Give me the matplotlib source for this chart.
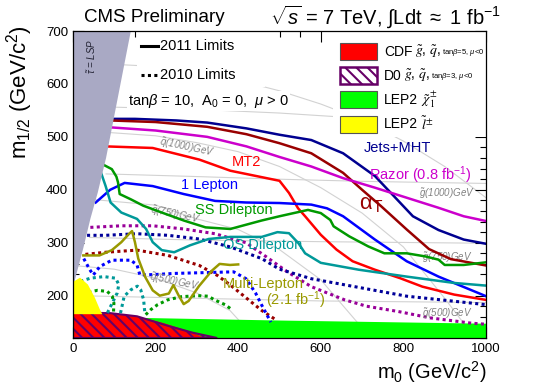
import matplotlib
matplotlib.use('Agg')
import matplotlib.pyplot as plt
from matplotlib.patches import Polygon, Rectangle
from matplotlib.ticker import MultipleLocator
from matplotlib.lines import Line2D

plt.rcParams['font.family'] = ['Liberation Sans', 'DejaVu Sans']
plt.rcParams['mathtext.fontset'] = 'custom'
plt.rcParams['mathtext.rm'] = 'Liberation Sans'
plt.rcParams['mathtext.it'] = 'Liberation Sans:italic'
plt.rcParams['mathtext.bf'] = 'Liberation Sans:bold'
plt.rcParams['hatch.linewidth'] = 1.5

# ---------------- data (m0, m1/2) ----------------
lsp_region = [(0, 215), (8, 240), (25, 290), (42, 345), (60, 395), (80, 460), (100, 540), (140, 700), (0, 700)]
lep_slepton = [(0, 165), (0, 226), (17, 234), (36, 221), (53, 196), (65, 174), (71, 165)]
lep_chargino = [(0, 120), (0, 160), (160, 158), (500, 153), (1000, 147), (1000, 120)]
cdf_region = [(0, 120), (0, 166), (80, 167), (155, 161), (220, 148), (280, 133), (320, 120)]
d0_region = [(0, 120), (0, 168), (90, 167), (155, 161), (230, 143), (290, 130), (349, 120)]

jets_mht_2011 = [(90, 534), (150, 534), (250, 531), (325, 527), (420, 516), (500, 504), (577, 494), (654, 469),
                 (731, 426), (777, 388), (823, 350), (885, 324), (946, 306), (1000, 298)]
alphat_2011 = [(90, 531), (200, 528), (325, 519), (420, 505), (500, 488), (577, 469), (654, 432), (700, 400),
               (746, 369), (808, 325), (862, 288), (915, 269), (1000, 257)]
razor_2011 = [(90, 518), (200, 512), (325, 500), (420, 482), (500, 462), (577, 444), (654, 422), (731, 404),
              (808, 385), (885, 366), (946, 350), (1000, 341)]
mt2_2011 = [(80, 482), (193, 479), (306, 457), (381, 436), (450, 425), (500, 417), (523, 394), (545, 365),
            (562, 350), (600, 315), (638, 287), (677, 265), (731, 249), (792, 233), (846, 217), (923, 202), (1000, 192)]
onelep_2011 = [(55, 376), (90, 400), (125, 413), (193, 407), (268, 392), (344, 379), (419, 376), (500, 375),
               (577, 372), (615, 365), (654, 350), (731, 306), (808, 265), (885, 236), (1000, 199)]
ssdilep_2011 = [(72, 448), (94, 439), (105, 425), (109, 414), (113, 392), (140, 382), (170, 370), (215, 357),
                (268, 342), (321, 329), (381, 326), (457, 342), (500, 350), (569, 362), (600, 356), (623, 343),
                (631, 331), (669, 312), (715, 293), (754, 280), (808, 280), (854, 274), (885, 268), (900, 258),
                (946, 258), (1000, 263)]
osdilep_2011 = [(68, 432), (79, 407), (91, 376), (117, 357), (155, 345), (177, 326), (193, 301), (215, 286),
                (245, 282), (283, 295), (328, 307), (381, 311), (457, 311), (495, 320), (523, 318), (546, 299),
                (562, 280), (600, 262), (692, 249), (808, 236), (923, 224), (1000, 219)]
multilep_2011 = [(25, 276), (64, 276), (94, 286), (117, 301), (136, 317), (143, 322), (150, 301), (158, 270),
                 (175, 235), (193, 210), (210, 200), (232, 204), (243, 220), (256, 200), (268, 184), (280, 190),
                 (305, 218), (336, 247), (355, 260), (380, 258), (400, 259)]

razor_2010 = [(42, 329), (117, 332), (193, 332), (268, 326), (344, 317), (419, 300), (465, 275), (519, 245),
              (577, 217), (658, 192), (711, 180), (788, 170), (865, 158), (965, 148), (1000, 146)]
jets_mht_2010 = [(34, 314), (79, 314), (155, 317), (230, 314), (306, 307), (381, 292), (457, 270), (500, 250),
                 (577, 232), (654, 221), (808, 199), (1000, 183)]
alphat_2010 = [(30, 278), (79, 282), (155, 286), (230, 276), (306, 257), (350, 238), (381, 220), (419, 196),
               (457, 172), (490, 155)]
onelep_2010 = [(26, 270), (40, 250), (49, 239), (65, 255), (94, 267), (140, 267), (155, 258), (162, 239),
               (200, 240), (245, 242), (389, 245), (419, 232), (442, 205), (457, 182), (479, 150)]
osdilep_2010_a = [(18, 227), (42, 233), (75, 236), (103, 233), (111, 221), (107, 205), (95, 186), (83, 167)]
osdilep_2010_b = [(115, 167), (124, 199), (140, 211), (156, 218), (164, 211), (171, 192), (174, 167)]
ssdilep_2010_a = [(10, 196), (26, 205), (59, 210), (83, 208), (95, 199), (99, 186), (98, 167)]
ssdilep_2010_b = [(176, 164), (189, 174), (205, 183), (229, 192), (262, 198), (302, 200), (327, 199),
                  (343, 192), (368, 183), (384, 174)]

gluino_contours = {
    1250: [(105, 556), (300, 552), (500, 545), (640, 538)],
    1000: [(80, 430), (300, 425), (500, 420), (700, 416), (1000, 412)],
    750: [(40, 310), (300, 305), (600, 302), (1000, 299)],
    500: [(10, 200), (300, 195), (600, 190), (1000, 187)],
}
squark_contours = {
    500: [(0, 257), (100, 250), (200, 233), (300, 205), (380, 172), (441, 120)],
    750: [(0, 385), (200, 371), (300, 345), (400, 325), (500, 287), (600, 230), (700, 139), (712, 120)],
    1000: [(0, 513), (200, 502), (300, 489), (400, 472), (500, 444), (600, 404), (700, 356), (800, 292),
           (900, 195), (973, 120)],
    1250: [(0, 641), (200, 633), (300, 622), (400, 607), (500, 587), (600, 562), (700, 532), (800, 492),
           (900, 444), (1000, 385)],
}

x_ticks = [0, 200, 400, 600, 800, 1000]
y_ticks = [200, 300, 400, 500, 600, 700]

# ---------------- figure ----------------
W, H = 545, 391
fig = plt.figure(figsize=(W / 100, H / 100), dpi=100)
ax = fig.add_axes([73 / W, 1 - 338 / H, (486 - 73) / W, (338 - 31) / H])
ax.set_xlim(0, 1000)
ax.set_ylim(120, 700)

def xy(pts):
    return [p[0] for p in pts], [p[1] for p in pts]

gray = '#d2d2d2'
for pts in list(gluino_contours.values()) + list(squark_contours.values()):
    x, y = xy(pts)
    ax.plot(x, y, color=gray, lw=0.8, zorder=1)

# filled regions
ax.add_patch(Polygon(lep_chargino, closed=True, fc='#00ff00', ec='none', zorder=2))
ax.add_patch(Polygon(cdf_region, closed=True, fc='#ff0000', ec='none', zorder=2.1))
ax.add_patch(Polygon(d0_region, closed=True, fc='none', ec='#660066', hatch='\\\\\\', lw=1.5, zorder=2.2))

# 2010 dotted
dot = dict(lw=2.2, linestyle=(0, (1, 1.1)), dash_capstyle='butt', zorder=3)
for pts, c in [(razor_2010, '#990099'), (jets_mht_2010, '#000099'), (alphat_2010, '#990000'),
               (onelep_2010, '#0000ff'), (osdilep_2010_a, '#009999'), (osdilep_2010_b, '#009999'),
               (ssdilep_2010_a, '#009900'), (ssdilep_2010_b, '#009900')]:
    x, y = xy(pts)
    ax.plot(x, y, color=c, **dot)

# 2011 solid
for pts, c in [(jets_mht_2011, '#000090'), (alphat_2011, '#990000'), (razor_2011, '#cc00cc'),
               (mt2_2011, '#ff0000'), (onelep_2011, '#0000ff'), (ssdilep_2011, '#009900'),
               (osdilep_2011, '#009999'), (multilep_2011, '#999900')]:
    x, y = xy(pts)
    ax.plot(x, y, color=c, lw=1.8, zorder=3.5, solid_joinstyle='round')

ax.add_patch(Polygon(lsp_region, closed=True, fc='#a9a9c4', ec='none', zorder=4))
ax.add_patch(Polygon(lep_slepton, closed=True, fc='#ffff00', ec='none', zorder=4.1))

# white boxes behind legends
ax.add_patch(Rectangle(((137 - 73) / 413, 1 - (87 - 31) / 307), 128 / 413, 56 / 307, transform=ax.transAxes,
                       fc='white', ec='none', zorder=5))
ax.add_patch(Rectangle(((333 - 73) / 413, 1 - (137 - 31) / 307), (486 - 333) / 413, 106 / 307,
                       transform=ax.transAxes, fc='white', ec='none', zorder=5))

# contour labels
lab = dict(color='#808080', fontsize=7, style='italic', zorder=3)
ax.text(275, 480, r'$\tilde{q}$(1000)GeV', rotation=-12, ha='center', va='center', **lab)
ax.text(247, 353, r'$\tilde{q}$(750)GeV', rotation=-12, ha='center', va='center', **lab)
ax.text(245, 226, r'$\tilde{q}$(500)GeV', rotation=-12, ha='center', va='center', **lab)
ax.text(905, 393, r'$\tilde{g}$(1000)GeV', ha='center', va='center', **lab)
ax.text(905, 272, r'$\tilde{g}$(750)GeV', ha='center', va='center', **lab)
ax.text(905, 166, r'$\tilde{g}$(500)GeV', ha='center', va='center', **lab)

# curve labels
fs = 10.5
ax.text(785, 479, 'Jets+MHT', color='#000090', fontsize=fs, ha='center', va='center', zorder=6)
ax.text(842, 428, r'Razor (0.8 fb$^{-1}$)', color='#cc00cc', fontsize=fs, ha='center', va='center', zorder=6)
ax.text(722, 372, r'$\mathrm{\alpha}_{\mathrm{T}}$', color='#990000', fontsize=16, ha='center', va='center', zorder=6)
ax.text(421, 452, 'MT2', color='#ff0000', fontsize=fs, ha='center', va='center', zorder=6)
ax.text(330, 409, '1 Lepton', color='#0000ff', fontsize=fs, ha='center', va='center', zorder=6)
ax.text(390, 362, 'SS Dilepton', color='#009900', fontsize=fs, ha='center', va='center', zorder=6)
ax.text(460, 295, 'OS Dilepton', color='#009999', fontsize=fs, ha='center', va='center', zorder=6)
ax.text(460, 222, 'Multi-Lepton', color='#999900', fontsize=fs, ha='center', va='center', zorder=6)
ax.text(540, 191, r'(2.1 fb$^{-1}$)', color='#999900', fontsize=fs, ha='center', va='center', zorder=6)

ax.text(44, 651, r'$\tilde{\tau}$ = LSP', rotation=90, fontsize=7, style='italic', color='#222233',
        ha='center', va='center', zorder=6)

# axes styling
ax.set_xticks(x_ticks)
ax.set_yticks(y_ticks)
ax.xaxis.set_minor_locator(MultipleLocator(50))
ax.yaxis.set_minor_locator(MultipleLocator(20))
ax.tick_params(which='both', direction='in', top=True, right=True, labelsize=9.5, width=0.8, zorder=7)
ax.tick_params(which='major', length=8)
ax.tick_params(which='minor', length=4)
for s in ax.spines.values():
    s.set_linewidth(0.9)
    s.set_zorder(8)

# titles & axis labels (figure coords from pixel positions)
def ft(px, py, s, **kw):
    return fig.text(px / W, 1 - py / H, s, **kw)

ft(84, 17, 'CMS Preliminary', fontsize=13.5, ha='left', va='center')
ft(270, 17, r'$\sqrt{s}$ = 7 TeV, $\int$Ldt $\approx$ 1 fb$^{-1}$', fontsize=14.5, ha='left', va='center')
ft(20, 25, r'm$_{1/2}$ (GeV/c$^{2}$)', fontsize=16, rotation=90, ha='center', va='top')
ft(487, 372, r'm$_{0}$ (GeV/c$^{2}$)', fontsize=14.5, ha='right', va='center')

# left legend
fig.add_artist(Line2D([141 / W, 158 / W], [1 - 46 / H] * 2, color='black', lw=2.2))
ft(160, 46, '2011 Limits', fontsize=10.5, ha='left', va='center')
fig.add_artist(Line2D([141 / W, 158 / W], [1 - 75 / H] * 2, color='black', lw=2.2, linestyle=(0, (1, 1.1))))
ft(160, 75, '2010 Limits', fontsize=10.5, ha='left', va='center')
ft(128, 101, r'tan$\beta$ = 10,  A$_{0}$ = 0,  $\mu$ > 0', fontsize=10.5, ha='left', va='center',
   bbox=dict(fc='white', ec='none', pad=0.5), zorder=6)

# right legend
boxes = [(43, '#ff0000', None, 'CDF'), (67, 'white', '#660066', 'D0'), (91, '#00ff00', None, 'LEP2'),
         (116, '#ffff00', None, 'LEP2')]
for top, fc, hc, name in boxes:
    if hc is None:
        r = Rectangle((340 / W, 1 - (top + 17) / H), 37 / W, 17 / H, transform=fig.transFigure,
                      fc=fc, ec='#555555', lw=0.8, zorder=6)
    else:
        r = Rectangle((340 / W, 1 - (top + 17) / H), 37 / W, 17 / H, transform=fig.transFigure,
                      fc='white', ec=hc, hatch='\\\\\\', lw=1.8, zorder=6)
    fig.add_artist(r)
    ft(384, top + 8.5, name, fontsize=10, ha='left', va='center')

ft(415, 51.5, r'$\tilde{g}$, $\tilde{q}$,', fontsize=10, ha='left', va='center', math_fontfamily='stix')
ft(442, 52, r'tan$\beta$=5, $\mu$<0', fontsize=5.5, ha='left', va='center')
ft(404, 75.5, r'$\tilde{g}$, $\tilde{q}$,', fontsize=10, ha='left', va='center', math_fontfamily='stix')
ft(431, 76, r'tan$\beta$=3, $\mu$<0', fontsize=5.5, ha='left', va='center')
ft(421, 99.5, r'$\tilde{\chi}^{\pm}_{1}$', fontsize=10, ha='left', va='center', math_fontfamily='stix')
ft(421, 124.5, r'$\tilde{l}^{\pm}$', fontsize=10, ha='left', va='center', math_fontfamily='stix')

fig.savefig('out.png', dpi=100)
